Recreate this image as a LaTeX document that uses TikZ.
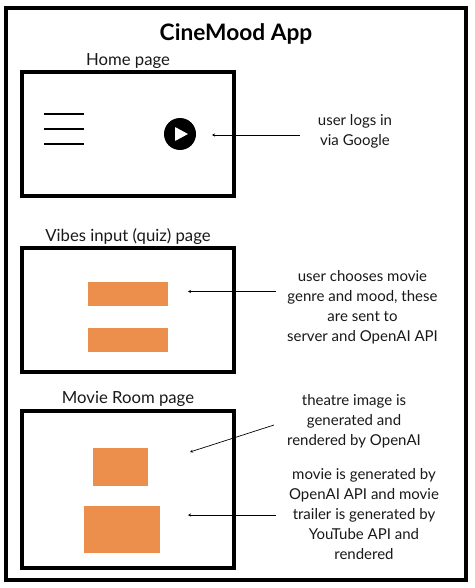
\documentclass[tikz,border=0pt]{standalone}
\usepackage{fontspec}
\setmainfont{Lato}
\definecolor{boxorange}{HTML}{EC8F4C}
\usetikzlibrary{arrows.meta}
\tikzset{
  x=1pt,y=-1pt,
  pagebox/.style={draw=black,line width=4pt,fill=white},
  orangebox/.style={fill=boxorange,draw=none,inner sep=0pt},
  bar/.style={line width=1.5pt,black},
  pointer/.style={line width=0.7pt,black,-{Stealth[length=3pt,width=3pt]}},
  lbl/.style={font=\fontsize{15}{20}\selectfont,align=center,text=black!90,inner sep=0pt,anchor=center},
  pagetitle/.style={font=\fontsize{16.7}{20}\selectfont,text=black!90,inner sep=0pt,anchor=center},
}
\begin{document}
\begin{tikzpicture}
\useasboundingbox (0,0) rectangle (474,588);
\fill[white] (0,0) rectangle (474,588);
\draw[draw=black,line width=4pt] (6,8) rectangle (466,580);
\node[font=\fontsize{22.7}{26}\selectfont\bfseries,inner sep=0pt] (title) at (236,34) {CineMood App};
% Home page
\node[pagetitle] (homet) at (128,61) {Home page};
\draw[pagebox] (22,72) rectangle (234,196);
\draw[bar] (44,114) -- (84,114);
\draw[bar] (44,129) -- (84,129);
\draw[bar] (44,144) -- (84,144);
\node[circle,fill=black,minimum size=32pt,inner sep=0pt] (play) at (180,134) {};
\fill[white,rounded corners=0.5pt] (175,127) -- (188,134) -- (175,141) -- cycle;
\node[lbl] (login) at (355,131) {user logs in\\via Google};
\coordinate (a1s) at (300,135);
\coordinate (a1e) at (212,135);
\draw[pointer] (a1s) -- (a1e);
% Vibes page
\node[pagetitle] (vibest) at (128,237) {Vibes input (quiz) page};
\draw[pagebox] (22,248) rectangle (234,372);
\node[orangebox,minimum width=80pt,minimum height=24pt] (b1) at (128,294) {};
\node[orangebox,minimum width=80pt,minimum height=24pt] (b2) at (128,340) {};
\node[lbl] (choose) at (362.5,307.5) {user chooses movie\\genre and mood, these\\are sent to\\server and OpenAI API};
\coordinate (a2s) at (276,291.5);
\coordinate (a2e) at (188,291.5);
\draw[pointer] (a2s) -- (a2e);
% Movie page
\node[pagetitle] (moviet) at (128,398.5) {Movie Room page};
\draw[pagebox] (22,411) rectangle (234,568);
\node[orangebox,minimum width=55pt,minimum height=38pt] (b3) at (120,466.5) {};
\node[orangebox,minimum width=76pt,minimum height=47pt] (b4) at (122,529.5) {};
\node[lbl] (theatre) at (354,421.5) {theatre image is\\generated and\\rendered by OpenAI};
\node[lbl] (movie) at (364,514) {movie is generated by\\OpenAI API and movie\\trailer is generated by\\YouTube API and\\rendered};
\coordinate (a3s) at (274,425);
\coordinate (a3e) at (190,452);
\draw[pointer] (a3s) -- (a3e);
\coordinate (a4s) at (276,515);
\coordinate (a4e) at (188,515);
\draw[pointer] (a4s) -- (a4e);
\end{tikzpicture}
\end{document}
